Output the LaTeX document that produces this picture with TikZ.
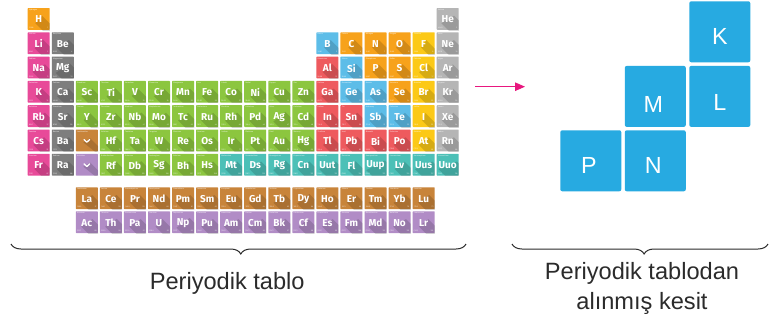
\documentclass[tikz,border=0pt]{standalone}
\usepackage{fontspec}
\setmainfont{Liberation Sans}
\newfontfamily\cellfont{Fira Sans}
\usetikzlibrary{calc,arrows.meta,decorations.pathreplacing}
\definecolor{cO}{HTML}{F7A21B}
\definecolor{cY}{HTML}{FCC917}
\definecolor{cP}{HTML}{E84A99}
\definecolor{cG}{HTML}{7E7E7E}
\definecolor{cN}{HTML}{B5B5B5}
\definecolor{cT}{HTML}{8CC63F}
\definecolor{cR}{HTML}{EE5A5E}
\definecolor{cB}{HTML}{5DBDE8}
\definecolor{cQ}{HTML}{4CC0B7}
\definecolor{cL}{HTML}{C8843A}
\definecolor{cA}{HTML}{B18CC6}
\definecolor{sqblue}{HTML}{27AAE1}
\definecolor{arrowmag}{HTML}{E8177F}
\definecolor{captxt}{HTML}{2B2B2B}
\tikzset{
  cellbox/.style={rectangle, minimum width=22pt, minimum height=21.8pt, inner sep=0pt, rounded corners=0.6pt},
  symb/.style={inner sep=0pt, text=white, font=\cellfont\bfseries\fontsize{10}{11}\selectfont},
  tinytxt/.style={inner sep=0pt, text=white, text opacity=0.85, font=\cellfont\fontsize{1.9}{2}\selectfont},
  sqbox/.style={rectangle, fill=sqblue, minimum size=61pt, inner sep=0pt, rounded corners=2pt},
  sqlab/.style={inner sep=0pt, text=white, font=\fontsize{23.3}{24}\selectfont},
  caption/.style={inner sep=0pt, text=captxt, font=\fontsize{23.6}{28}\selectfont, anchor=base},
  bracestyle/.style={draw=captxt, line width=1pt, decorate},
}
% #1 col, #2 top y, #3 symbol, #4 name, #5 mass, #6 number, #7 colour
\newcommand\elcell[7]{%
  \pgfmathsetmacro\ecx{27.7+(#1-1)*24.06+11}%
  \pgfmathsetmacro\ecy{#2+10.9}%
  \node[cellbox,fill=#7] (c-#3) at (\ecx,\ecy) {};
  \begin{scope}
    \clip (c-#3.north west) rectangle (c-#3.south east);
    \node[symb,opacity=0] (p-#3) at (\ecx,\ecy+0.6) {#3};
    \fill[black,opacity=.15] (p-#3.north east) -- ++(20,20) -- ($(p-#3.south west)+(20,20)$) -- (p-#3.south west) -- cycle;
  \end{scope}
  \node[symb] (s-#3) at (\ecx,\ecy+0.6) {#3};
  \node[tinytxt,anchor=north west] (n-#3) at ([shift={(1.3,1.2)}]c-#3.north west) {#4};
  \node[tinytxt,anchor=south west] (m-#3) at ([shift={(1.3,-1.2)}]c-#3.south west) {#5};
  \node[tinytxt,anchor=south east] (z-#3) at ([shift={(-1.3,-1.2)}]c-#3.south east) {#6};
}
\newcommand\placecell[4]{% #1 col, #2 top, #3 name, #4 colour
  \pgfmathsetmacro\ecx{27.7+(#1-1)*24.06+11}%
  \pgfmathsetmacro\ecy{#2+10.9}%
  \node[cellbox,fill=#4] (c-#3) at (\ecx,\ecy) {};
  \begin{scope}
    \clip (c-#3.north west) rectangle (c-#3.south east);
    \fill[black,opacity=.15] (\ecx+3.5,\ecy-2) -- ++(20,20) -- ++(-7,0) -- (\ecx-3.5,\ecy+2) -- cycle;
  \end{scope}
  \draw[white,line width=1.3pt,line cap=round,line join=round] (\ecx-2.8,\ecy-0.8) -- (\ecx,\ecy+1.8) -- (\ecx+2.8,\ecy-0.8);
  \node[tinytxt,anchor=north west] (n-#3) at ([shift={(1.3,1.2)}]c-#3.north west) {#3};
}
\begin{document}
\begin{tikzpicture}[x=1pt,y=-1pt]
\fill[white] (0,0) rectangle (769,322);
\useasboundingbox (0,0) rectangle (769,322);
% row 1
\elcell{1}{8}{H}{Hydrogen}{1.008}{1}{cO}
\elcell{18}{8}{He}{Helium}{4.003}{2}{cN}
% row 2
\foreach \c/\s/\n/\m/\z/\k in {1/Li/Lithium/6.941/3/cP, 2/Be/Beryllium/9.012/4/cG, 13/B/Boron/10.81/5/cB, 14/C/Carbon/12.01/6/cO, 15/N/Nitrogen/14.01/7/cO, 16/O/Oxygen/16.00/8/cO, 17/F/Fluorine/19.00/9/cY, 18/Ne/Neon/20.18/10/cN}
  {\elcell{\c}{32.3}{\s}{\n}{\m}{\z}{\k}}
% row 3
\foreach \c/\s/\n/\m/\z/\k in {1/Na/Sodium/22.99/11/cP, 2/Mg/Magnesium/24.31/12/cG, 13/Al/Aluminium/26.98/13/cR, 14/Si/Silicon/28.09/14/cB, 15/P/Phosphorus/30.97/15/cO, 16/S/Sulfur/32.07/16/cO, 17/Cl/Chlorine/35.45/17/cY, 18/Ar/Argon/39.95/18/cN}
  {\elcell{\c}{56.6}{\s}{\n}{\m}{\z}{\k}}
% row 4
\foreach \c/\s/\n/\m/\z/\k in {1/K/Potassium/39.10/19/cP, 2/Ca/Calcium/40.08/20/cG, 3/Sc/Scandium/44.96/21/cT, 4/Ti/Titanium/47.87/22/cT, 5/V/Vanadium/50.94/23/cT, 6/Cr/Chromium/52.00/24/cT, 7/Mn/Manganese/54.94/25/cT, 8/Fe/Iron/55.85/26/cT, 9/Co/Cobalt/58.93/27/cT, 10/Ni/Nickel/58.69/28/cT, 11/Cu/Copper/63.55/29/cT, 12/Zn/Zinc/65.38/30/cT, 13/Ga/Gallium/69.72/31/cR, 14/Ge/Germanium/72.63/32/cB, 15/As/Arsenic/74.92/33/cB, 16/Se/Selenium/78.97/34/cO, 17/Br/Bromine/79.90/35/cY, 18/Kr/Krypton/83.80/36/cN}
  {\elcell{\c}{80.9}{\s}{\n}{\m}{\z}{\k}}
% row 5
\foreach \c/\s/\n/\m/\z/\k in {1/Rb/Rubidium/85.47/37/cP, 2/Sr/Strontium/87.62/38/cG, 3/Y/Yttrium/88.91/39/cT, 4/Zr/Zirconium/91.22/40/cT, 5/Nb/Niobium/92.91/41/cT, 6/Mo/Molybdenum/95.96/42/cT, 7/Tc/Technetium/(98)/43/cT, 8/Ru/Ruthenium/101.1/44/cT, 9/Rh/Rhodium/102.9/45/cT, 10/Pd/Palladium/106.4/46/cT, 11/Ag/Silver/107.9/47/cT, 12/Cd/Cadmium/112.4/48/cT, 13/In/Indium/114.8/49/cR, 14/Sn/Tin/118.7/50/cR, 15/Sb/Antimony/121.8/51/cB, 16/Te/Tellurium/127.6/52/cB, 17/I/Iodine/126.9/53/cY, 18/Xe/Xenon/131.3/54/cN}
  {\elcell{\c}{105.2}{\s}{\n}{\m}{\z}{\k}}
% row 6
\foreach \c/\s/\n/\m/\z/\k in {1/Cs/Caesium/132.9/55/cP, 2/Ba/Barium/137.3/56/cG, 4/Hf/Hafnium/178.5/72/cT, 5/Ta/Tantalum/180.9/73/cT, 6/W/Tungsten/183.8/74/cT, 7/Re/Rhenium/186.2/75/cT, 8/Os/Osmium/190.2/76/cT, 9/Ir/Iridium/192.2/77/cT, 10/Pt/Platinum/195.1/78/cT, 11/Au/Gold/197.0/79/cT, 12/Hg/Mercury/200.6/80/cT, 13/Tl/Thallium/204.4/81/cR, 14/Pb/Lead/207.2/82/cR, 15/Bi/Bismuth/209.0/83/cR, 16/Po/Polonium/(209)/84/cR, 17/At/Astatine/(210)/85/cY, 18/Rn/Radon/(222)/86/cN}
  {\elcell{\c}{129.5}{\s}{\n}{\m}{\z}{\k}}
\placecell{3}{129.5}{Lanthanides}{cL}
% row 7
\foreach \c/\s/\n/\m/\z/\k in {1/Fr/Francium/(223)/87/cP, 2/Ra/Radium/(226)/88/cG, 4/Rf/Rutherfordium/(267)/104/cT, 5/Db/Dubnium/(268)/105/cT, 6/Sg/Seaborgium/(269)/106/cT, 7/Bh/Bohrium/(270)/107/cT, 8/Hs/Hassium/(277)/108/cT, 9/Mt/Meitnerium/(278)/109/cQ, 10/Ds/Darmstadtium/(281)/110/cQ, 11/Rg/Roentgenium/(282)/111/cQ, 12/Cn/Copernicium/(285)/112/cQ, 13/Uut/Ununtrium/(286)/113/cQ, 14/Fl/Flerovium/(289)/114/cQ, 15/Uup/Ununpentium/(290)/115/cQ, 16/Lv/Livermorium/(293)/116/cQ, 17/Uus/Ununseptium/(294)/117/cQ, 18/Uuo/Ununoctium/(294)/118/cQ}
  {\elcell{\c}{153.8}{\s}{\n}{\m}{\z}{\k}}
\placecell{3}{153.8}{Actinides}{cA}
% lanthanides
\foreach \c/\s/\n/\m/\z in {3/La/Lanthanum/138.9/57, 4/Ce/Cerium/140.1/58, 5/Pr/Praseodymium/140.9/59, 6/Nd/Neodymium/144.2/60, 7/Pm/Promethium/(145)/61, 8/Sm/Samarium/150.4/62, 9/Eu/Europium/152.0/63, 10/Gd/Gadolinium/157.3/64, 11/Tb/Terbium/158.9/65, 12/Dy/Dysprosium/162.5/66, 13/Ho/Holmium/164.9/67, 14/Er/Erbium/167.3/68, 15/Tm/Thulium/168.9/69, 16/Yb/Ytterbium/173.0/70, 17/Lu/Lutetium/175.0/71}
  {\elcell{\c}{187.3}{\s}{\n}{\m}{\z}{cL}}
% actinides
\foreach \c/\s/\n/\m/\z in {3/Ac/Actinium/(227)/89, 4/Th/Thorium/232.0/90, 5/Pa/Protactinium/231.0/91, 6/U/Uranium/238.0/92, 7/Np/Neptunium/(237)/93, 8/Pu/Plutonium/(244)/94, 9/Am/Americium/(243)/95, 10/Cm/Curium/(247)/96, 11/Bk/Berkelium/(247)/97, 12/Cf/Californium/(251)/98, 13/Es/Einsteinium/(252)/99, 14/Fm/Fermium/(257)/100, 15/Md/Mendelevium/(258)/101, 16/No/Nobelium/(259)/102, 17/Lr/Lawrencium/(262)/103}
  {\elcell{\c}{211.3}{\s}{\n}{\m}{\z}{cA}}
% arrow
\coordinate (arrS) at (475,86.7);
\coordinate (arrE) at (525,86.7);
\draw[arrowmag, line width=1pt, -{Triangle[length=10pt,width=8.5pt]}] (arrS) -- (arrE);
% section squares
\node[sqbox] (sqK) at (719.8,31.8) {};
\node[sqbox] (sqL) at (719.8,96.4) {};
\node[sqbox] (sqM) at (655.3,96.4) {};
\node[sqbox] (sqN) at (655.3,160.8) {};
\node[sqbox] (sqP) at (590.8,160.8) {};
\node[sqlab] (lK) at ([shift={(0,5)}]sqK.center) {K};
\node[sqlab] (lL) at ([shift={(0,6)}]sqL.center) {L};
\node[sqlab] (lM) at ([shift={(-2,8)}]sqM.center) {M};
\node[sqlab] (lN) at ([shift={(-2,4.5)}]sqN.center) {N};
\node[sqlab] (lP) at ([shift={(-2,4.5)}]sqP.center) {P};
% braces
\coordinate (lbR) at (466,244);
\coordinate (lbL) at (11,244);
\coordinate (rbR) at (768,244);
\coordinate (rbL) at (512,244);
\draw[bracestyle, decoration={brace, amplitude=10pt, aspect=0.495}] (lbR) -- (lbL);
\draw[bracestyle, decoration={brace, amplitude=10pt, aspect=0.484}] (rbR) -- (rbL);
% captions
\node[caption] (capL) at (227.2,289.3) {Periyodik tablo};
\node[caption] (capR1) at (642,279) {Periyodik tablodan};
\node[caption] (capR2) at (642,309) {alınmış kesit};
\end{tikzpicture}
\end{document}
